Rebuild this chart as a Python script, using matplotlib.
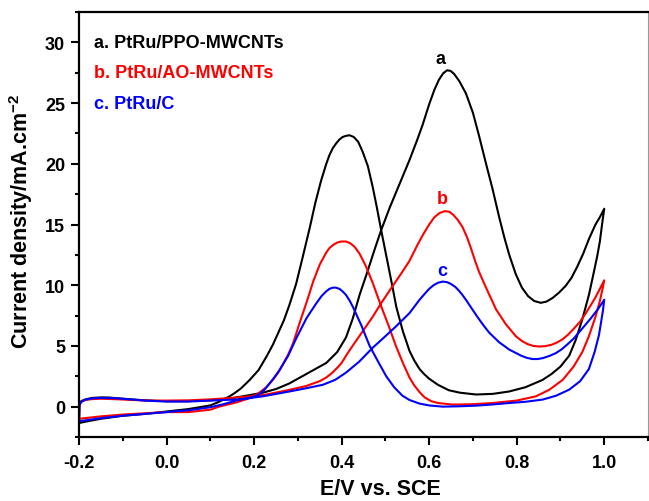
import numpy as np
import matplotlib
matplotlib.use('Agg')
import matplotlib.pyplot as plt
from matplotlib.ticker import MultipleLocator, FormatStrFormatter

plt.rcParams['font.family'] = ['Liberation Sans', 'DejaVu Sans']
plt.rcParams['font.weight'] = 'bold'
plt.rcParams['axes.unicode_minus'] = False
plt.rcParams['mathtext.fontset'] = 'custom'
plt.rcParams['mathtext.rm'] = 'Liberation Sans'
plt.rcParams['mathtext.bf'] = 'Liberation Sans:bold'

# (E / V, j / mA cm-2)
# a. PtRu/PPO-MWCNTs
a_fwd = [(-0.200, -1.35), (-0.199, 0.2), (-0.195, 0.45), (-0.185, 0.6), (-0.17, 0.72),
         (-0.15, 0.76), (-0.13, 0.75), (-0.11, 0.68), (-0.08, 0.6), (-0.05, 0.52),
         (-0.02, 0.47), (0.0, 0.45), (0.05, 0.45), (0.10, 0.52), (0.15, 0.7),
         (0.19, 0.95), (0.22, 1.15), (0.25, 1.45), (0.28, 1.9), (0.30, 2.3),
         (0.33, 2.9), (0.365, 3.6), (0.39, 4.5), (0.41, 5.7), (0.425, 7.2),
         (0.441, 9.2), (0.457, 10.9), (0.475, 12.9), (0.49, 14.5), (0.51, 16.4),
         (0.532, 18.3), (0.555, 20.3), (0.573, 22.0), (0.585, 23.2), (0.60, 24.9),
         (0.612, 26.1), (0.622, 26.9), (0.632, 27.45), (0.641, 27.7), (0.649, 27.65),
         (0.657, 27.4), (0.669, 26.8), (0.684, 25.8), (0.70, 24.2), (0.714, 22.3),
         (0.73, 20.0), (0.745, 17.9), (0.76, 15.6), (0.772, 13.9), (0.783, 12.5),
         (0.798, 10.9), (0.812, 9.8), (0.826, 9.1), (0.84, 8.7), (0.855, 8.55),
         (0.868, 8.65), (0.882, 8.95), (0.897, 9.4), (0.912, 9.95), (0.925, 10.6),
         (0.938, 11.5), (0.952, 12.6), (0.965, 13.8), (0.98, 15.0), (0.99, 15.6),
         (1.0, 16.3)]
a_rev = [(1.0, 16.3), (0.995, 15.0), (0.99, 13.6), (0.984, 12.4), (0.977, 11.2),
         (0.965, 9.2), (0.95, 7.2), (0.935, 5.5), (0.92, 4.2), (0.90, 3.3),
         (0.88, 2.7), (0.859, 2.2), (0.82, 1.6), (0.783, 1.25), (0.745, 1.05),
         (0.707, 1.0), (0.67, 1.15), (0.645, 1.35), (0.62, 1.8), (0.60, 2.3),
         (0.588, 2.7), (0.578, 3.1), (0.566, 3.8), (0.555, 4.6), (0.54, 6.2),
         (0.525, 8.2), (0.516, 9.9), (0.505, 11.9), (0.49, 14.6), (0.48, 16.5),
         (0.471, 18.1), (0.46, 19.8), (0.448, 21.0), (0.438, 21.8), (0.428, 22.2),
         (0.418, 22.35), (0.41, 22.3), (0.402, 22.2), (0.395, 22.0), (0.388, 21.7),
         (0.38, 21.3), (0.372, 20.7), (0.365, 20.0), (0.353, 18.6), (0.34, 16.8),
         (0.327, 14.7), (0.311, 12.3), (0.296, 10.1), (0.28, 8.3), (0.268, 7.1),
         (0.258, 6.3), (0.243, 5.1), (0.228, 4.1), (0.21, 3.0), (0.19, 2.2),
         (0.17, 1.5), (0.155, 1.1), (0.144, 0.85), (0.12, 0.4), (0.10, 0.1),
         (0.05, -0.2), (0.0, -0.4), (-0.05, -0.6), (-0.10, -0.75), (-0.15, -1.0),
         (-0.18, -1.2), (-0.20, -1.35)]

# b. PtRu/AO-MWCNTs
b_fwd = [(-0.200, -1.0), (-0.199, 0.1), (-0.195, 0.4), (-0.185, 0.55), (-0.17, 0.62),
         (-0.15, 0.65), (-0.12, 0.62), (-0.08, 0.55), (-0.04, 0.5), (0.0, 0.5),
         (0.05, 0.52), (0.10, 0.6), (0.15, 0.72), (0.19, 0.85), (0.228, 1.0),
         (0.27, 1.3), (0.319, 1.7), (0.35, 2.1), (0.365, 2.4), (0.379, 2.8),
         (0.39, 3.2), (0.40, 3.6), (0.412, 4.3), (0.425, 5.0), (0.45, 6.3),
         (0.471, 7.4), (0.49, 8.5), (0.516, 9.9), (0.535, 10.9), (0.555, 12.0),
         (0.573, 13.3), (0.585, 14.1), (0.60, 15.0), (0.612, 15.6), (0.624, 15.95),
         (0.636, 16.1), (0.646, 16.05), (0.655, 15.8), (0.665, 15.4), (0.676, 14.8),
         (0.686, 14.0), (0.695, 13.1), (0.705, 12.0), (0.714, 11.1), (0.725, 10.2),
         (0.735, 9.4), (0.753, 8.0), (0.775, 6.8), (0.798, 5.8), (0.812, 5.4),
         (0.825, 5.15), (0.838, 5.0), (0.851, 4.95), (0.865, 4.98), (0.88, 5.1),
         (0.893, 5.3), (0.905, 5.55), (0.918, 5.95), (0.93, 6.4), (0.945, 7.0),
         (0.958, 7.7), (0.97, 8.4), (0.98, 9.0), (0.99, 9.7), (1.0, 10.4)]
b_rev = [(1.0, 10.4), (0.995, 9.5), (0.99, 8.7), (0.98, 7.4), (0.965, 5.8),
         (0.95, 4.5), (0.93, 3.3), (0.905, 2.2), (0.875, 1.4), (0.844, 0.85),
         (0.80, 0.5), (0.745, 0.3), (0.70, 0.2), (0.654, 0.17), (0.62, 0.3),
         (0.605, 0.45), (0.59, 0.75), (0.578, 1.2), (0.566, 1.75), (0.555, 2.4),
         (0.54, 3.6), (0.524, 5.0), (0.507, 6.7), (0.49, 8.3), (0.471, 10.2),
         (0.455, 11.6), (0.441, 12.6), (0.43, 13.15), (0.42, 13.45), (0.41, 13.6),
         (0.399, 13.6), (0.389, 13.5), (0.38, 13.3), (0.372, 13.05), (0.365, 12.7),
         (0.35, 11.7), (0.335, 10.3), (0.32, 8.6), (0.305, 7.0), (0.289, 5.2),
         (0.278, 4.3), (0.266, 3.5), (0.255, 2.8), (0.243, 2.2), (0.228, 1.6),
         (0.21, 1.1), (0.19, 0.7), (0.16, 0.35), (0.12, 0.0), (0.10, -0.25),
         (0.05, -0.45), (0.0, -0.45), (-0.05, -0.55), (-0.10, -0.65), (-0.15, -0.8),
         (-0.20, -1.0)]

# c. PtRu/C
c_fwd = [(-0.200, -1.2), (-0.199, 0.1), (-0.195, 0.4), (-0.185, 0.58), (-0.17, 0.68),
         (-0.15, 0.72), (-0.12, 0.7), (-0.09, 0.62), (-0.05, 0.5), (0.0, 0.42),
         (0.05, 0.42), (0.10, 0.5), (0.167, 0.6), (0.22, 0.85), (0.266, 1.15),
         (0.31, 1.45), (0.357, 1.8), (0.385, 2.2), (0.41, 2.8), (0.44, 3.7),
         (0.471, 4.85), (0.50, 5.8), (0.524, 6.6), (0.555, 7.7), (0.578, 8.8),
         (0.59, 9.3), (0.60, 9.7), (0.61, 10.0), (0.62, 10.2), (0.631, 10.3),
         (0.641, 10.25), (0.65, 10.1), (0.66, 9.85), (0.668, 9.55), (0.676, 9.2),
         (0.684, 8.8), (0.697, 8.1), (0.71, 7.4), (0.724, 6.7), (0.737, 6.1),
         (0.76, 5.3), (0.783, 4.7), (0.81, 4.2), (0.823, 4.02), (0.836, 3.92),
         (0.848, 3.92), (0.86, 4.0), (0.875, 4.18), (0.889, 4.4), (0.902, 4.7),
         (0.915, 5.1), (0.93, 5.6), (0.942, 6.1), (0.956, 6.7), (0.97, 7.3),
         (0.985, 8.0), (1.0, 8.8)]
c_rev = [(1.0, 8.8), (0.997, 7.9), (0.993, 7.0), (0.988, 5.9), (0.978, 4.5),
         (0.965, 3.1), (0.945, 2.1), (0.92, 1.4), (0.89, 0.9), (0.859, 0.58),
         (0.82, 0.4), (0.783, 0.3), (0.745, 0.18), (0.707, 0.08), (0.67, 0.03),
         (0.631, 0.0), (0.60, 0.1), (0.578, 0.25), (0.555, 0.55), (0.539, 0.9),
         (0.52, 1.6), (0.502, 2.5), (0.485, 3.6), (0.464, 5.0), (0.445, 6.7),
         (0.426, 8.2), (0.418, 8.75), (0.41, 9.2), (0.402, 9.5), (0.395, 9.7),
         (0.387, 9.8), (0.38, 9.8), (0.372, 9.7), (0.365, 9.5), (0.354, 9.1),
         (0.342, 8.5), (0.32, 7.3), (0.296, 5.6), (0.278, 4.2), (0.258, 3.0),
         (0.245, 2.35), (0.235, 1.9), (0.224, 1.4), (0.213, 1.05), (0.2, 0.82),
         (0.19, 0.72), (0.167, 0.58), (0.13, 0.2), (0.10, -0.05), (0.05, -0.3),
         (0.0, -0.45), (-0.05, -0.6), (-0.10, -0.75), (-0.15, -0.95), (-0.20, -1.2)]

curves = [a_fwd + a_rev, b_fwd + b_rev, c_fwd + c_rev]
colors = ['black', 'red', 'blue']
names = ['a. PtRu/PPO-MWCNTs', 'b. PtRu/AO-MWCNTs', 'c. PtRu/C']
letters = ['a', 'b', 'c']
letter_pos = [(0.627, 28.7), (0.629, 17.1), (0.629, 11.2)]
name_y = [30.0, 27.5, 25.0]


def plot_cv():
    fig = plt.figure(figsize=(6.49, 5.02), dpi=100)
    ax = fig.add_axes([79 / 649, 1 - 438 / 502, 569 / 649, 425 / 502])

    for pts, col in zip(curves, colors):
        xy = np.array(pts)
        ax.plot(xy[:, 0], xy[:, 1], color=col, lw=1.5,
                solid_joinstyle='round', solid_capstyle='round')

    for name, col, y in zip(names, colors, name_y):
        ax.text(-0.166, y, name, color=col, fontsize=13, fontweight='bold', va='center')

    for let, col, (x, y) in zip(letters, colors, letter_pos):
        ax.text(x, y, let, color=col, fontsize=13, fontweight='bold', ha='center', va='center')

    ax.set_xlim(-0.2, 1.1)
    ax.set_ylim(-2.5, 32.5)
    ax.xaxis.set_major_locator(MultipleLocator(0.2))
    ax.xaxis.set_minor_locator(MultipleLocator(0.1))
    ax.xaxis.set_major_formatter(FormatStrFormatter('%.1f'))
    ax.yaxis.set_major_locator(MultipleLocator(5))
    ax.yaxis.set_minor_locator(MultipleLocator(2.5))

    ax.tick_params(which='both', direction='out', width=1.5, labelsize=13)
    ax.tick_params(which='major', length=6)
    ax.tick_params(which='minor', length=3)
    ax.tick_params(axis='x', pad=6)
    ax.tick_params(axis='y', pad=4)

    for s in ['left', 'bottom', 'top']:
        ax.spines[s].set_linewidth(1.6)
    ax.spines['right'].set_color('#999999')
    ax.spines['right'].set_linewidth(0.8)

    ax.set_xlabel('E/V vs. SCE', fontsize=15.5, fontweight='bold')
    ax.xaxis.set_label_coords(0.529, -0.096)
    ax.set_ylabel(r'Current density/mA.cm$^{\mathbf{-2}}$', fontsize=15.5, fontweight='bold')
    ax.yaxis.set_label_coords(-0.077, 0.51)

    fig.savefig('out.png', dpi=100)


if __name__ == '__main__':
    plot_cv()
